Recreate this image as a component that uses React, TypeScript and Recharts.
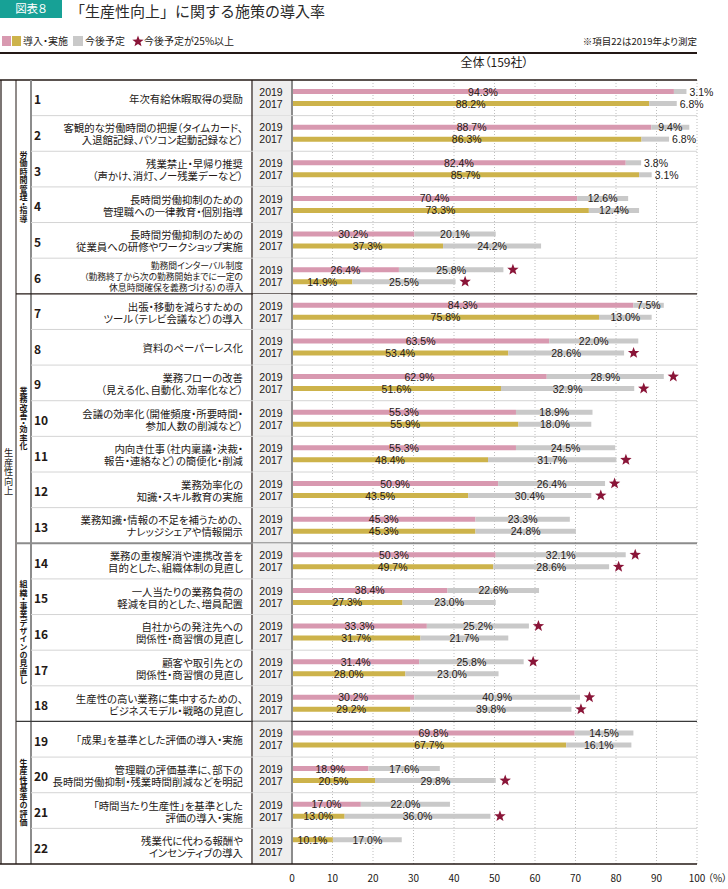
import { BarChart, Bar, XAxis, YAxis, CartesianGrid, LabelList, Cell } from "recharts"

const itemNos = ["1", "2", "3", "4", "5", "6", "7", "8", "9", "10", "11", "12", "13", "14", "15", "16", "17", "18", "19", "20", "21", "22"]

const itemLabels: string[][] = [
  ["年次有給休暇取得の奨励"],
  ["客観的な労働時間の把握（タイムカード、", "入退館記録、パソコン起動記録など）"],
  ["残業禁止・早帰り推奨", "（声かけ、消灯、ノー残業デーなど）"],
  ["長時間労働抑制のための", "管理職への一律教育・個別指導"],
  ["長時間労働抑制のための", "従業員への研修やワークショップ実施"],
  ["勤務間インターバル制度", "（勤務終了から次の勤務開始までに一定の", "休息時間確保を義務づける）の導入"],
  ["出張・移動を減らすための", "ツール（テレビ会議など）の導入"],
  ["資料のペーパーレス化"],
  ["業務フローの改善", "（見える化、自動化、効率化など）"],
  ["会議の効率化（開催頻度・所要時間・", "参加人数の削減など）"],
  ["内向き仕事（社内稟議・決裁・", "報告・連絡など）の簡便化・削減"],
  ["業務効率化の", "知識・スキル教育の実施"],
  ["業務知識・情報の不足を補うための、", "ナレッジシェアや情報開示"],
  ["業務の重複解消や連携改善を", "目的とした、組織体制の見直し"],
  ["一人当たりの業務負荷の", "軽減を目的とした、増員配置"],
  ["自社からの発注先への", "関係性・商習慣の見直し"],
  ["顧客や取引先との", "関係性・商習慣の見直し"],
  ["生産性の高い業務に集中するための、", "ビジネスモデル・戦略の見直し"],
  ["「成果」を基準とした評価の導入・実施"],
  ["管理職の評価基準に、部下の", "長時間労働抑制・残業時間削減などを明記"],
  ["「時間当たり生産性」を基準とした", "評価の導入・実施"],
  ["残業代に代わる報酬や", "インセンティブの導入"],
]

// 導入・実施 / 今後予定 (%)
const impl2019 = [94.3, 88.7, 82.4, 70.4, 30.2, 26.4, 84.3, 63.5, 62.9, 55.3, 55.3, 50.9, 45.3, 50.3, 38.4, 33.3, 31.4, 30.2, 69.8, 18.9, 17.0, 10.1]
const plan2019 = [3.1, 9.4, 3.8, 12.6, 20.1, 25.8, 7.5, 22.0, 28.9, 18.9, 24.5, 26.4, 23.3, 32.1, 22.6, 25.2, 25.8, 40.9, 14.5, 17.6, 22.0, 17.0]
const impl2017 = [88.2, 86.3, 85.7, 73.3, 37.3, 14.9, 75.8, 53.4, 51.6, 55.9, 48.4, 43.5, 45.3, 49.7, 27.3, 31.7, 28.0, 29.2, 67.7, 20.5, 13.0, null]
const plan2017 = [6.8, 6.8, 3.1, 12.4, 24.2, 25.5, 13.0, 28.6, 32.9, 18.0, 31.7, 30.4, 24.8, 28.6, 23.0, 21.7, 23.0, 39.8, 16.1, 29.8, 36.0, null]

const years = ["2019", "2017"]
const groupNames = ["労働時間管理・指導", "業務改善・効率化", "組織・事業デザインの見直し", "生産性基準の評価"]
const groupSizes = [6, 7, 5, 4]
const outerLabel = "生産性向上"
const xTicks = [0, 10, 20, 30, 40, 50, 60, 70, 80, 90, 100]
const STAR_THRESHOLD = 25

const PINK = "#d899b0"
const OLIVE = "#cdb34b"
const GRAY = "#c9c9c9"
const STAR = "#8a1538"
const INK = "#231815"
const TEAL = "#17a196"
const FONT = "'Noto Sans CJK JP', 'Noto Sans', sans-serif"
const NUM_FONT = "'Liberation Sans', Arial, sans-serif"

const TOP = 80
const BOTTOM = 864
const RIGHT = 697
const ROW_H = (BOTTOM - TOP) / itemNos.length

const groupStarts = groupSizes.map((_, g) => groupSizes.slice(0, g).reduce((a, b) => a + b, 0))
const ruleStyles = [
  { stroke: INK, width: 1.3 },
  { stroke: "#8c8c8c", width: 2 },
  { stroke: "#3a3a3a", width: 1.3 },
]

const data = itemNos.map((no, i) => ({
  no,
  impl2019: impl2019[i],
  plan2019: plan2019[i],
  impl2017: impl2017[i],
  plan2017: plan2017[i],
}))

const palt = { fontFeatureSettings: '"palt"' }

// vertical (tategaki) label, one text element
const VText = ({ text, x, cy, fs, spacing, weight }: any) => (
  <text
    x={x}
    y={cy}
    textAnchor="middle"
    fontSize={fs}
    fontWeight={weight}
    fill={INK}
    fontFamily={FONT}
    letterSpacing={spacing}
    style={{ writingMode: "vertical-rl", fontFeatureSettings: '"vpal"' }}
  >
    {text}
  </text>
)

const RowTick = (props: any) => {
  const { y, payload } = props
  const i = itemNos.indexOf(String(payload.value))
  if (i < 0) return null
  const top = y - ROW_H / 2
  const bottom = y + ROW_H / 2
  const lines = itemLabels[i]
  const small = lines.length > 2
  const fs = small ? 8.8 : 10.4
  const lh = small ? 10.8 : 12
  const g = groupStarts.indexOf(i)
  const endGroup = groupStarts.map((s, k) => s + groupSizes[k] - 1).indexOf(i)
  const last = i === itemNos.length - 1
  const firstY = y - ((lines.length - 1) / 2) * lh

  return (
    <g fontFamily={FONT}>
      <rect x={253} y={top} width={38} height={ROW_H} fill="#eeeeee" />
      <text x={34} y={y + 1} dominantBaseline="central" fontSize={12} fontWeight={700} fill={INK}>
        {payload.value}
      </text>
      <text x={243} y={firstY} textAnchor="end" dominantBaseline="central" fontSize={fs} fill={INK} style={palt}>
        {lines.map((l, k) => (
          <tspan key={k} x={243} y={firstY + k * lh}>
            {l}
          </tspan>
        ))}
      </text>
      <text x={271} y={y - 6} textAnchor="middle" dominantBaseline="central" fontSize={10.5} fill={INK} fontFamily={NUM_FONT}>
        {years.map((yr, k) => (
          <tspan key={yr} x={271} y={y + (k === 0 ? -6 : 6)}>
            {yr}
          </tspan>
        ))}
      </text>
      {last ? (
        <line x1={0} x2={RIGHT} y1={bottom} y2={bottom} stroke={INK} strokeWidth={1.3} />
      ) : endGroup >= 0 ? (
        <line x1={16} x2={RIGHT} y1={bottom} y2={bottom} stroke={ruleStyles[endGroup].stroke} strokeWidth={ruleStyles[endGroup].width} />
      ) : (
        <line x1={31} x2={RIGHT} y1={bottom} y2={bottom} stroke="#d4d4d4" strokeWidth={1} />
      )}
      {g >= 0 && <VText text={groupNames[g]} x={23.5} cy={top + (groupSizes[g] * ROW_H) / 2} fs={8} spacing={0.5} weight={700} />}
      {i === 0 && (
        <g>
          <line x1={0} x2={RIGHT} y1={TOP} y2={TOP} stroke={INK} strokeWidth={1.3} />
          <line x1={1} x2={1} y1={TOP} y2={BOTTOM} stroke={INK} strokeWidth={1.2} />
          <line x1={16} x2={16} y1={TOP} y2={BOTTOM} stroke={INK} strokeWidth={1} />
          <line x1={31} x2={31} y1={TOP} y2={BOTTOM} stroke="#8c8c8c" strokeWidth={2} />
          <line x1={252} x2={252} y1={TOP} y2={BOTTOM} stroke={INK} strokeWidth={1.2} />
          <VText text={outerLabel} x={8.5} cy={(TOP + BOTTOM) / 2} fs={9.2} spacing={0.4} weight={400} />
        </g>
      )}
    </g>
  )
}

const XTick = (props: any) => {
  const { x, y, payload } = props
  return (
    <g fontFamily={FONT} fill={INK}>
      <text x={x} y={y + 5} textAnchor="middle" dominantBaseline="central" fontSize={10} fill={INK}>
        {payload.value}
      </text>
      {payload.value === 100 && (
        <text x={x + 11} y={y + 5} dominantBaseline="central" fontSize={10} fill={INK}>
          （%）
        </text>
      )}
    </g>
  )
}

const starPoints = (cx: number, cy: number, r: number) => {
  const pts: string[] = []
  for (let k = 0; k < 10; k++) {
    const rad = k % 2 === 0 ? r : r * 0.42
    const a = -Math.PI / 2 + (k * Math.PI) / 5
    pts.push(`${cx + rad * Math.cos(a)},${cy + rad * Math.sin(a)}`)
  }
  return pts.join(" ")
}

const implLabel = (props: any) => {
  const { x, y, width, height, value } = props
  if (value == null) return null
  return (
    <text x={x + width / 2} y={y + height / 2} textAnchor="middle" dominantBaseline="central" fontSize={10.5} fill={INK} fontFamily={NUM_FONT}>
      {Number(value).toFixed(1)}%
    </text>
  )
}

const planLabel = (props: any) => {
  const { x, y, width, height, value } = props
  if (value == null) return null
  const end = x + width
  const cy = y + height / 2
  const outside = value < 7
  return (
    <g>
      <text
        x={outside ? end + 3 : x + width / 2}
        y={cy}
        textAnchor={outside ? "start" : "middle"}
        dominantBaseline="central"
        fontSize={10.5}
        fill={INK}
        fontFamily={NUM_FONT}
      >
        {Number(value).toFixed(1)}%
      </text>
      {value >= STAR_THRESHOLD && <polygon points={starPoints(end + 9.5, cy, 6)} fill={STAR} />}
    </g>
  )
}

const abs = (left: number, top: number, extra: any = {}) => ({ position: "absolute" as const, left, top, lineHeight: 1, whiteSpace: "nowrap" as const, ...extra })

const App = () => {
  return (
    <div style={{ position: "absolute", left: 0, top: 0, width: 728, height: 889, background: "#fff", fontFamily: FONT, color: INK, fontFeatureSettings: '"palt"' }}>
      <div style={{ position: "absolute", left: 0, top: 0 }}>
        <BarChart width={728} height={889} data={data} layout="vertical" margin={{ top: TOP, right: 728 - RIGHT, bottom: 0, left: 0 }} barSize={5} barGap={7}>
          <CartesianGrid vertical horizontal={false} stroke="#bdbdbd" strokeDasharray="1 2" />
          <XAxis type="number" domain={[0, 100]} ticks={xTicks} height={889 - BOTTOM} axisLine={false} tickLine={false} interval={0} tick={(p: any) => <XTick {...p} />} />
          <YAxis
            type="category"
            dataKey="no"
            width={292}
            interval={0}
            tickLine={false}
            axisLine={{ stroke: "#8c8c8c", strokeWidth: 2 }}
            tick={(p: any) => <RowTick {...p} />}
          />
          <Bar dataKey="impl2019" stackId="y2019" fill={PINK} isAnimationActive={false}>
            {data.map((d, i) => (
              <Cell key={i} fill={d.impl2017 == null ? OLIVE : PINK} />
            ))}
            <LabelList dataKey="impl2019" content={implLabel} />
          </Bar>
          <Bar dataKey="plan2019" stackId="y2019" fill={GRAY} isAnimationActive={false}>
            <LabelList dataKey="plan2019" content={planLabel} />
          </Bar>
          <Bar dataKey="impl2017" stackId="y2017" fill={OLIVE} isAnimationActive={false}>
            <LabelList dataKey="impl2017" content={implLabel} />
          </Bar>
          <Bar dataKey="plan2017" stackId="y2017" fill={GRAY} isAnimationActive={false}>
            <LabelList dataKey="plan2017" content={planLabel} />
          </Bar>
        </BarChart>
      </div>

      <div style={abs(0, 0, { width: 62, height: 18, background: TEAL, color: "#fff", fontSize: 11.5, display: "flex", alignItems: "center", justifyContent: "center" })}>図表８</div>
      <div style={abs(70, 3, { fontSize: 15, color: "#2a2a2a", fontFeatureSettings: "normal" })}>「生産性向上」に関する施策の導入率</div>

      <div style={abs(2, 36, { width: 9, height: 10, background: PINK })} />
      <div style={abs(12, 36, { width: 9, height: 10, background: OLIVE })} />
      <div style={abs(23, 36, { fontSize: 10 })}>導入・実施</div>
      <div style={abs(73, 36, { width: 10, height: 10, background: GRAY })} />
      <div style={abs(85, 36, { fontSize: 10 })}>今後予定</div>
      <svg style={{ position: "absolute", left: 132, top: 35 }} width={12} height={12}>
        <polygon points={starPoints(6, 6.5, 6)} fill={STAR} />
      </svg>
      <div style={abs(144, 36, { fontSize: 10 })}>今後予定が25%以上</div>
      <div style={abs(0, 37, { width: RIGHT, textAlign: "right", fontSize: 9.5 })}>※項目22は2019年より測定</div>
      <div style={abs(0, 52, { width: RIGHT, height: 1.5, background: INK })} />
      <div style={abs(292, 56, { width: RIGHT - 292, textAlign: "center", fontSize: 12 })}>全体（159社）</div>
    </div>
  )
}

export default App
